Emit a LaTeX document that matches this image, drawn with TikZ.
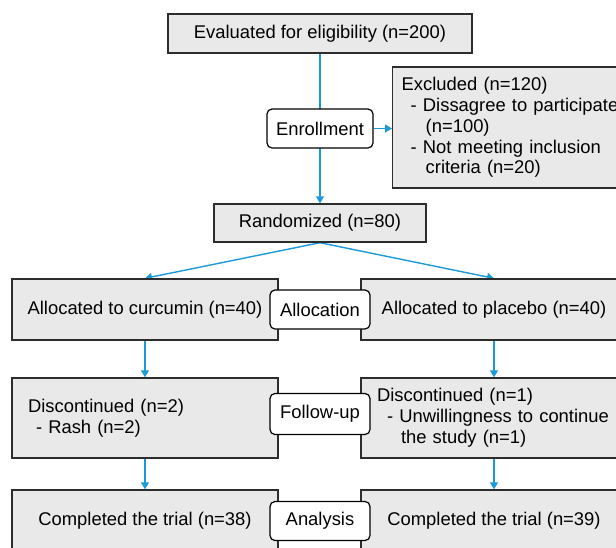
\documentclass[tikz,border=0pt]{standalone}
\usepackage{fontspec}
\setmainfont{Liberation Sans}
\usetikzlibrary{arrows.meta,backgrounds}
\definecolor{flowblue}{RGB}{27,153,217}
\definecolor{boxgray}{RGB}{233,233,233}
\definecolor{boxline}{RGB}{45,45,45}
\tikzset{
  stagebox/.style={draw=boxline, line width=1.4pt, fill=boxgray, rectangle, inner sep=0pt},
  sidebox/.style={stagebox, minimum width=266pt},
  listbox/.style={stagebox, text width=234pt, inner xsep=16pt, align=left},
  phaselabel/.style={draw=black, line width=1.2pt, fill=white, rounded corners=5pt,
    minimum width=100pt, minimum height=39pt, inner sep=0pt},
  flow/.style={draw=flowblue, line width=1.4pt, -{Triangle[width=8pt,length=7pt]}}
}

\begin{document}
\begin{tikzpicture}[x=1pt, y=-1pt, font=\fontsize{18.4}{20.8}\selectfont]

\useasboundingbox (0,0) rectangle (616,547);
\clip (0,0) rectangle (616,547);

% screening
\node[stagebox, minimum width=304pt, minimum height=39pt] (eval) at (320,33.5) {Evaluated for eligibility (n=200)};
\node[stagebox, anchor=west, text width=230pt, inner xsep=9pt, minimum height=121pt, align=left] (excl) at (392,127.5)
  {Excluded (n=120)\\
   \hspace*{9pt}- Dissagree to participate\\
   \hspace*{24pt}(n=100)\\
   \hspace*{9pt}- Not meeting inclusion\\
   \hspace*{24pt}criteria (n=20)};
\node[phaselabel, minimum width=106pt] (enroll) at (320,128.5) {Enrollment};
\node[stagebox, minimum width=212pt, minimum height=38pt] (rand) at (320,223) {Randomized (n=80)};

% two arms
\node[sidebox, minimum height=61pt] (allocL) at (145,309.5) {Allocated to curcumin (n=40)};
\node[sidebox, minimum height=61pt] (allocR) at (494,309.5) {Allocated to placebo (n=40)};
\node[phaselabel] (alloc) at (320,309.5) {Allocation};

\node[listbox, minimum height=80pt] (fuL) at (145,418)
  {Discontinued (n=2)\\
   \hspace*{8pt}- Rash (n=2)};
\node[listbox, minimum height=80pt] (fuR) at (494,418)
  {Discontinued (n=1)\\
   \hspace*{10pt}- Unwillingness to continue\\
   \hspace*{24pt}the study (n=1)};
\node[phaselabel, minimum height=41pt] (follow) at (320,414) {Follow-up};

\node[sidebox, minimum height=62pt] (anL) at (145,521) {Completed the trial (n=38)};
\node[sidebox, minimum height=62pt] (anR) at (494,521) {Completed the trial (n=39)};
\node[phaselabel] (analysis) at (320,521) {Analysis};

\begin{scope}[on background layer]
\draw[flow] (eval) -- (rand);
\draw[flow] (enroll.east) -- (enroll.east -| excl.west);
\draw[flow] (rand.south) -- (allocL.north);
\draw[flow] (rand.south) -- (allocR.north);
\draw[flow] (allocL) -- (fuL);
\draw[flow] (allocR) -- (fuR);
\draw[flow] (fuL) -- (anL);
\draw[flow] (fuR) -- (anR);
\end{scope}

\end{tikzpicture}
\end{document}
